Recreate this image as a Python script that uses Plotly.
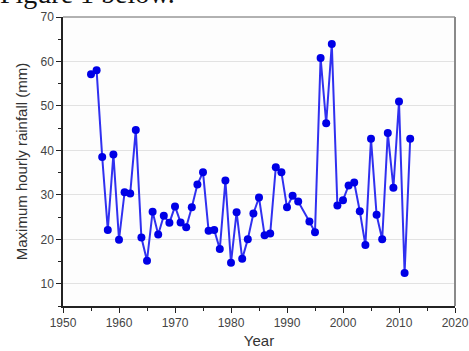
import plotly.graph_objects as go

years = [1955, 1956, 1957, 1958, 1959, 1960, 1961, 1962, 1963, 1964,
         1965, 1966, 1967, 1968, 1969, 1970, 1971, 1972, 1973, 1974,
         1975, 1976, 1977, 1978, 1979, 1980, 1981, 1982, 1983, 1984,
         1985, 1986, 1987, 1988, 1989, 1990, 1991, 1992, 1994,
         1995, 1996, 1997, 1998, 1999, 2000, 2001, 2002, 2003, 2004,
         2005, 2006, 2007, 2008, 2009, 2010, 2011, 2012]
rainfall = [57.1, 58.0, 38.5, 22.1, 39.1, 19.9, 30.6, 30.3, 44.6, 20.4,
            15.2, 26.2, 21.1, 25.3, 23.7, 27.4, 23.8, 22.7, 27.2, 32.3,
            35.1, 21.9, 22.1, 17.8, 33.2, 14.7, 26.1, 15.6, 20.0, 25.8,
            29.4, 20.9, 21.3, 36.2, 35.1, 27.2, 29.8, 28.5, 24.0,
            21.6, 60.8, 46.1, 63.9, 27.6, 28.8, 32.1, 32.8, 26.3, 18.7,
            42.6, 25.5, 20.0, 43.9, 31.6, 51.0, 12.4, 42.6]

x_ticks = [1950, 1960, 1970, 1980, 1990, 2000, 2010, 2020]
y_ticks = [10, 20, 30, 40, 50, 60, 70]

fig = go.Figure()
fig.add_trace(go.Scatter(
    x=years, y=rainfall, mode="lines+markers",
    line=dict(color="#3030f0", width=2),
    marker=dict(color="#0000e6", size=8),
    showlegend=False,
))

axis_font = dict(family="Liberation Sans, Arial, sans-serif", size=12, color="#444444")
title_font = dict(family="Liberation Sans, Arial, sans-serif", size=15, color="#333333")

fig.update_layout(
    width=469, height=351,
    margin=dict(l=63, r=14, t=17, b=45),
    paper_bgcolor="white",
    plot_bgcolor="#fdfdfd",
    font=axis_font,
    xaxis=dict(
        range=[1950, 2020], tickvals=x_ticks, automargin=False,
        ticks="outside", ticklen=5, tickcolor="#222", tickwidth=1,
        minor=dict(dtick=5, ticks="outside", ticklen=3, tickcolor="#222"),
        showline=True, linecolor="#222", linewidth=1.5,
        showgrid=False, zeroline=False,
        tickfont=axis_font,
        title=dict(text="Year", font=title_font, standoff=6),
    ),
    yaxis=dict(
        range=[5, 70], tickvals=y_ticks, automargin=False,
        ticks="outside", ticklen=5, tickcolor="#222", tickwidth=1,
        minor=dict(dtick=5, ticks="outside", ticklen=3, tickcolor="#222", showgrid=False),
        showline=True, linecolor="#222", linewidth=1.5,
        showgrid=True, gridcolor="#e2e2e2", gridwidth=1,
        zeroline=False,
        tickfont=axis_font,
        title=dict(text="Maximum hourly rainfall (mm)", font=title_font, standoff=9),
    ),
)

# top and right frame lines (grey)
fig.add_shape(type="line", xref="paper", yref="paper", x0=0, x1=1, y0=1, y1=1,
              line=dict(color="#666666", width=1.2))
fig.add_shape(type="line", xref="paper", yref="paper", x0=1, x1=1, y0=0, y1=1,
              line=dict(color="#8a8a8a", width=2))

fig.add_annotation(
    text="Figure 1 below.", xref="paper", yref="paper",
    x=-65 / 392, y=1.021, xanchor="left", yanchor="bottom",
    showarrow=False,
    font=dict(family="Liberation Serif, Times New Roman, serif", size=28, color="#111"),
)

fig.write_html("out.html",
               config={"displayModeBar": False},
               post_script="document.body.style.margin='0';document.body.style.overflow='hidden';")
